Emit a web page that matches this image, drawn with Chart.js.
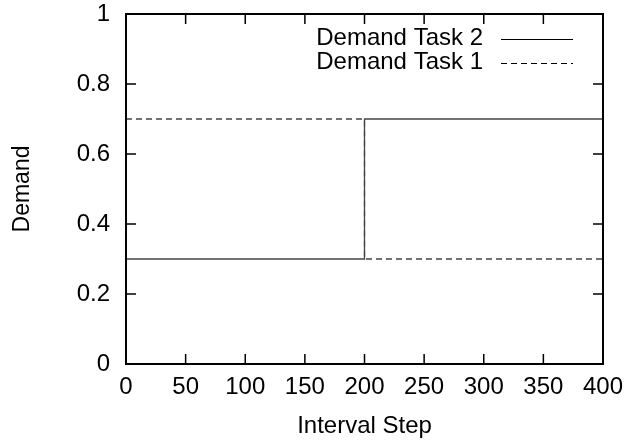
<!DOCTYPE html>
<html>
<head>
<meta charset="utf-8">
<script src="https://cdn.jsdelivr.net/npm/chart.js@4.4.1/dist/chart.umd.min.js"></script>
<style>
  html, body { margin: 0; padding: 0; background: #fff; }
  #wrap { width: 628px; height: 442px; }
</style>
</head>
<body>
<div id="wrap"><canvas id="myChart" width="628" height="442"></canvas></div>
<script>
// interval steps where demand changes, and demand held from each step on
var steps = [0, 200, 400];
var demandTask2 = [0.3, 0.7, 0.7];
var demandTask1 = [0.7, 0.3, 0.3];
var xTicks = [0, 50, 100, 150, 200, 250, 300, 350, 400];
var yTicks = [0, 0.2, 0.4, 0.6, 0.8, 1];

var fontFamily = '"Liberation Sans", Arial, Helvetica, sans-serif';

function toPoints(xs, ys) {
	var pts = [];
	for (var i = 0; i < xs.length; i++) {
		pts.push({ x: xs[i], y: ys[i] });
	}
	return pts;
}

// border box with inward ticks on all four sides, gnuplot style
var frameTicks = {
	id: 'frameTicks',
	afterDatasetsDraw: function(chart) {
		var ctx = chart.ctx;
		var a = chart.chartArea;
		var xs = chart.scales.x, ys = chart.scales.y;
		var len = 10;
		ctx.save();
		ctx.strokeStyle = '#000';
		ctx.lineWidth = 1.5;
		ctx.beginPath();
		xTicks.forEach(function(v) {
			var px = xs.getPixelForValue(v);
			ctx.moveTo(px, a.bottom); ctx.lineTo(px, a.bottom - len);
			ctx.moveTo(px, a.top); ctx.lineTo(px, a.top + len);
		});
		yTicks.forEach(function(v) {
			var py = ys.getPixelForValue(v);
			ctx.moveTo(a.left, py); ctx.lineTo(a.left + len, py);
			ctx.moveTo(a.right, py); ctx.lineTo(a.right - len, py);
		});
		ctx.stroke();
		ctx.lineWidth = 2;
		ctx.strokeRect(a.left, a.top, a.right - a.left, a.bottom - a.top);
		ctx.restore();
	}
};

// key in the top right corner: label text then a line sample
var keyBox = {
	id: 'keyBox',
	afterDraw: function(chart) {
		var ctx = chart.ctx;
		ctx.save();
		ctx.font = '24px ' + fontFamily;
		ctx.textAlign = 'right';
		ctx.textBaseline = 'middle';
		ctx.fillStyle = '#000';
		chart.data.datasets.forEach(function(ds, i) {
			var y = 38.5 + i * 24;
			ctx.fillText(ds.label, 483, y);
			ctx.beginPath();
			ctx.strokeStyle = '#000';
			ctx.lineWidth = 1;
			ctx.setLineDash(ds.borderDash || []);
			ctx.moveTo(501, Math.round(y) + 0.5);
			ctx.lineTo(573, Math.round(y) + 0.5);
			ctx.stroke();
		});
		ctx.restore();
	}
};

var canvas = document.getElementById('myChart');

var chart = new Chart(canvas, {
	type: 'line',
	data: {
		datasets: [
			{
				label: 'Demand Task 2',
				data: toPoints(steps, demandTask2),
				stepped: 'before',
				borderColor: '#444',
				borderWidth: 1.3,
				pointRadius: 0,
				fill: false
			},
			{
				label: 'Demand Task 1',
				data: toPoints(steps, demandTask1),
				stepped: 'before',
				borderColor: '#444',
				borderWidth: 1.3,
				borderDash: [6, 4],
				pointRadius: 0,
				fill: false
			}
		]
	},
	options: {
		responsive: false,
		animation: false,
		events: [],
		layout: { padding: { left: 0, top: 14, right: 25, bottom: 0 } },
		plugins: {
			legend: { display: false },
			tooltip: { enabled: false }
		},
		scales: {
			x: {
				type: 'linear',
				min: 0,
				max: 400,
				afterFit: function(scale) {
					scale.height = 78;
					scale.paddingLeft = 0;
					scale.paddingRight = 0;
				},
				afterBuildTicks: function(scale) {
					scale.ticks = xTicks.map(function(v) { return { value: v }; });
				},
				grid: { display: false, drawTicks: false },
				border: { display: false },
				ticks: {
					padding: 9,
					color: '#000',
					maxRotation: 0,
					font: { family: fontFamily, size: 24 }
				},
				title: {
					display: true,
					text: 'Interval Step',
					color: '#000',
					padding: { top: 0, bottom: 1 },
					font: { family: fontFamily, size: 24 }
				}
			},
			y: {
				type: 'linear',
				min: 0,
				max: 1,
				afterFit: function(scale) {
					scale.width = 126;
					scale.paddingTop = 0;
					scale.paddingBottom = 0;
				},
				afterBuildTicks: function(scale) {
					scale.ticks = yTicks.map(function(v) { return { value: v }; });
				},
				grid: { display: false, drawTicks: false },
				border: { display: false },
				ticks: {
					padding: 16,
					color: '#000',
					font: { family: fontFamily, size: 24 },
					callback: function(v) { return String(v); }
				},
				title: {
					display: true,
					text: 'Demand',
					color: '#000',
					padding: { top: 9, bottom: 0 },
					font: { family: fontFamily, size: 23 }
				}
			}
		}
	},
	plugins: [frameTicks, keyBox]
});
</script>
</body>
</html>
